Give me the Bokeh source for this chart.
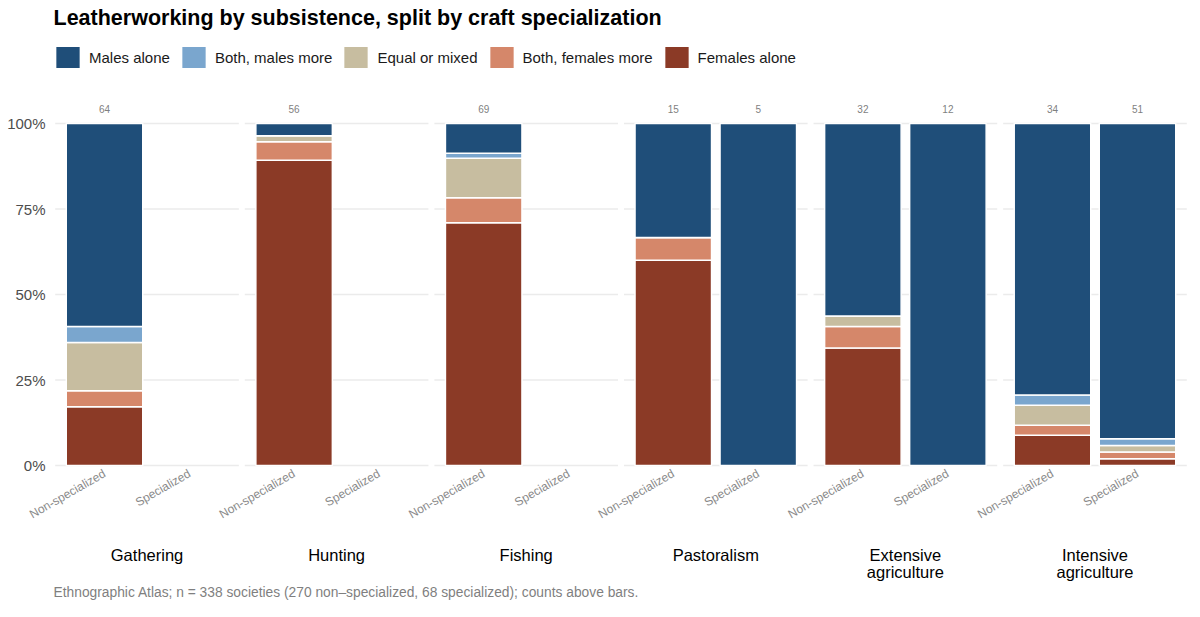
import math

from bokeh.plotting import figure
from bokeh.models import (FactorRange, ColumnDataSource, NumeralTickFormatter,
                          FixedTicker, Legend, LegendItem, Label, Range1d,
                          CategoricalAxis, Title)
from bokeh.embed import file_html
from bokeh.resources import INLINE
from bokeh.core.properties import value

# ---- data -------------------------------------------------------------
subsistence = ["Gathering", "Hunting", "Fishing", "Pastoralism",
               "Extensive\nagriculture", "Intensive\nagriculture"]
specialization = ["Non-specialized", "Specialized"]

# number of societies per bar, ordered subsistence x specialization
males_alone       = [38, 0, 2, 0, 6, 0, 5, 5, 18, 12, 27, 47]
both_males_more   = [3, 0, 0, 0, 1, 0, 0, 0, 0, 0, 1, 1]
equal_or_mixed    = [9, 0, 1, 0, 8, 0, 0, 0, 1, 0, 2, 1]
both_females_more = [3, 0, 3, 0, 5, 0, 1, 0, 2, 0, 1, 1]
females_alone     = [11, 0, 50, 0, 49, 0, 9, 0, 11, 0, 3, 1]

categories = ["Males alone", "Both, males more", "Equal or mixed",
              "Both, females more", "Females alone"]
colors = ["#1F4E79", "#7AA6CE", "#C7BDA0", "#D5876A", "#8B3A26"]
y_ticks = [0, 0.25, 0.5, 0.75, 1.0]

title_text = "Leatherworking by subsistence, split by craft specialization"
caption_text = ("Ethnographic Atlas; n = 338 societies (270 non\u2013specialized, "
                "68 specialized); counts above bars.")

FONT = "Liberation Sans"

# ---- derived shares ----------------------------------------------------
bars = [(g, s) for g in subsistence for s in specialization]
series = [males_alone, both_males_more, equal_or_mixed, both_females_more, females_alone]
totals = [sum(col) for col in zip(*series)]
keep = [i for i, n in enumerate(totals) if n > 0]

data = {"x": [bars[i] for i in keep], "n": [str(totals[i]) for i in keep]}
for name, vals in zip(categories, series):
    data[name] = [vals[i] / totals[i] for i in keep]
source = ColumnDataSource(data)

# ---- figure ------------------------------------------------------------
# title and legend sit inside the top of the frame; the axes and the
# caption are stacked below it
W, H = 1200, 617
GROUP_PAD = 0.23
x_range = FactorRange(*bars, group_padding=GROUP_PAD, factor_padding=0.0,
                      range_padding=0.1, range_padding_units="absolute")
# one factor per subsistence type, centred under its pair of bars
facet_range = FactorRange(*subsistence, factor_padding=1 + GROUP_PAD,
                          range_padding=0.6, range_padding_units="absolute")

p = figure(width=W, height=H, x_range=x_range,
           y_range=Range1d(-5 / 342, 465 / 342), title=None,
           output_backend="svg", toolbar_location=None,
           min_border_left=53, min_border_right=12,
           min_border_top=0, min_border_bottom=147,
           outline_line_color=None, background_fill_color="white",
           border_fill_color="white")
p.extra_x_ranges = {"facet": facet_range}
p.xgrid.visible = False
p.ygrid.visible = False

# facet-panel gridlines, broken between subsistence groups
gx0, gx1, gy = [], [], []
for g in subsistence:
    for t in y_ticks:
        gx0.append((g, specialization[0], -0.58))
        gx1.append((g, specialization[1], 0.58))
        gy.append(t)
p.segment(x0=gx0, x1=gx1, y0=gy, y1=gy, line_color="#EBEBEB", line_width=1.3)

# stacked bars, bottom to top
stack_order = categories[::-1]
renderers = p.vbar_stack(stack_order, x="x", width=0.9, source=source,
                         color=colors[::-1], line_color="white", line_width=1.5)

# counts above bars
p.text(x="x", y=1.0, text="n", source=source, y_offset=-15,
       text_align="center", text_baseline="middle",
       text_font=value(FONT), text_font_size="10px", text_color="#7F7F7F")

# legend
rmap = dict(zip(stack_order, renderers))
legend = Legend(items=[LegendItem(label=c, renderers=[rmap[c]]) for c in categories],
                orientation="horizontal", location=(-1, 470 - 43 - 28),
                glyph_width=31, glyph_height=28, label_standoff=6, spacing=8,
                padding=0, margin=0, label_text_font=FONT,
                label_text_font_size="15px", label_text_color="#1A1A1A",
                background_fill_alpha=0, border_line_alpha=0)
p.add_layout(legend, "center")

# x axis: specialization labels under each bar
xa = p.xaxis[0]
xa.axis_line_color = None
xa.major_tick_line_color = None
xa.major_tick_out = 0
xa.major_tick_in = 0
xa.separator_line_color = None
xa.group_text_color = None
xa.group_text_font_size = "1px"
xa.major_label_orientation = math.radians(30)
xa.major_label_standoff = 2
xa.major_label_text_font = FONT
xa.major_label_text_font_size = "12px"
xa.major_label_text_color = "#8A8A8A"

# facet axis: subsistence type under each pair of bars
fa = CategoricalAxis(x_range_name="facet", axis_line_color=None,
                     major_tick_line_color=None, major_tick_out=0,
                     major_tick_in=0, major_label_standoff=15,
                     major_label_text_font=FONT,
                     major_label_text_font_size="16.5px",
                     major_label_text_line_height=0.98,
                     major_label_text_color="#000000")
p.add_layout(fa, "below")

# y axis
p.yaxis.ticker = FixedTicker(ticks=y_ticks)
p.yaxis.formatter = NumeralTickFormatter(format="0%")
p.yaxis.axis_line_color = None
p.yaxis.major_tick_line_color = None
p.yaxis.minor_tick_line_color = None
p.yaxis.major_tick_out = 0
p.yaxis.major_tick_in = 0
p.yaxis.major_label_text_font = FONT
p.yaxis.major_label_text_font_size = "15px"
p.yaxis.major_label_text_color = "#4D4D4D"
p.yaxis.major_label_standoff = 8

# title (inside the frame's top margin) and caption (below the axes)
p.add_layout(Label(x=0, y=470 - 17, x_units="screen", y_units="screen",
                   text=title_text, text_font=FONT, text_font_size="21.5px",
                   text_font_style="bold", text_color="#000000",
                   text_baseline="middle"))
p.add_layout(Title(text=caption_text, align="left", text_font=FONT,
                   text_font_size="13.8px", text_font_style="normal",
                   text_color="#7F7F7F", standoff=-3, offset=0), "below")

open("out.html", "w").write(file_html(p, INLINE))
